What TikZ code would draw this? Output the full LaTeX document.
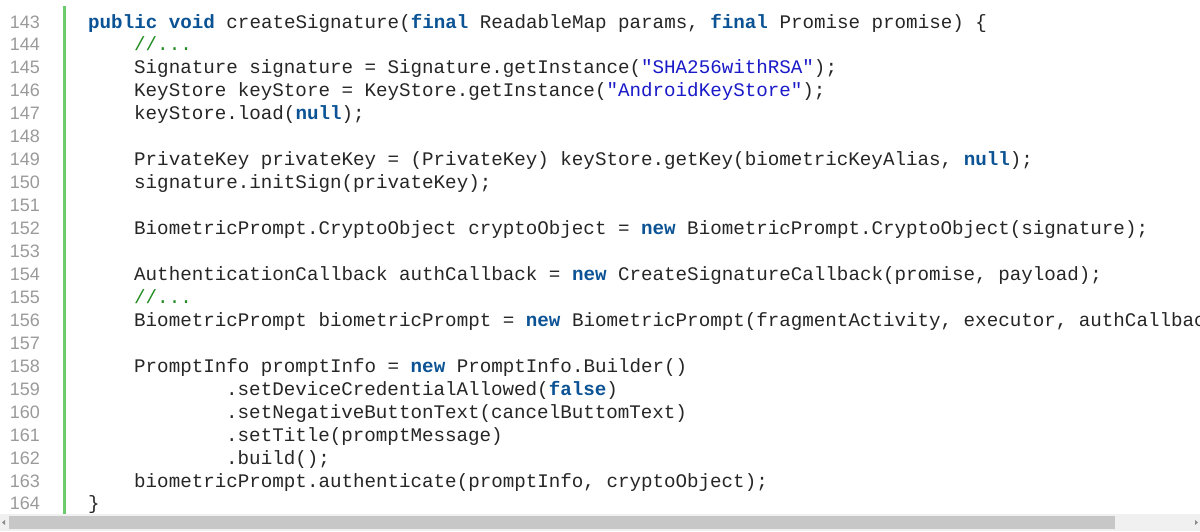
\documentclass[tikz,border=0pt]{standalone}
\usepackage{fontspec}
\setmonofont{Liberation Mono}
\setmainfont{Liberation Sans}
\definecolor{kw}{HTML}{0B5394}
\definecolor{str}{HTML}{1A1AC8}
\definecolor{cm}{HTML}{228B22}
\definecolor{ln}{HTML}{9A9A9A}
\definecolor{bar}{HTML}{6CCB6C}
\newcommand{\kw}[1]{\textcolor{kw}{\bfseries #1}}
\newcommand{\st}[1]{\textcolor{str}{#1}}
\newcommand{\cmt}[1]{\textcolor{cm}{#1}}
\newcommand{\codeline}[3]{\node[code] (c#1) at (#2,{-28-#1*22.95}) {#3};}
\begin{document}
\begin{tikzpicture}[x=1pt,y=1pt,
 code/.style={anchor=base west,inner sep=0pt,font=\ttfamily\fontsize{19.2}{23}\selectfont,text=black!85},
 num/.style={anchor=base east,inner sep=0pt,font=\fontsize{18}{23}\selectfont,text=ln}]
\useasboundingbox (0,0) rectangle (1200,-531);
\fill[white] (0,0) rectangle (1200,-531);
\begin{scope}
\clip (0,0) rectangle (1200,-531);
\draw[bar,line width=3pt] (64,-6) -- (64,-514);
\foreach \i in {0,...,21}{
 \pgfmathtruncatemacro\n{143+\i}
 \node[num] (n\i) at (40,{-28-\i*22.95}) {\n};
}
\codeline{0}{88}{\kw{public} \kw{void} createSignature(\kw{final} ReadableMap params, \kw{final} Promise promise) \{}
\codeline{1}{134}{\cmt{//...}}
\codeline{2}{134}{Signature signature = Signature.getInstance(\st{"SHA256withRSA"});}
\codeline{3}{134}{KeyStore keyStore = KeyStore.getInstance(\st{"AndroidKeyStore"});}
\codeline{4}{134}{keyStore.load(\kw{null});}
\codeline{6}{134}{PrivateKey privateKey = (PrivateKey) keyStore.getKey(biometricKeyAlias, \kw{null});}
\codeline{7}{134}{signature.initSign(privateKey);}
\codeline{9}{134}{BiometricPrompt.CryptoObject cryptoObject = \kw{new} BiometricPrompt.CryptoObject(signature);}
\codeline{11}{134}{AuthenticationCallback authCallback = \kw{new} CreateSignatureCallback(promise, payload);}
\codeline{12}{134}{\cmt{//...}}
\codeline{13}{134}{BiometricPrompt biometricPrompt = \kw{new} BiometricPrompt(fragmentActivity, executor, authCallback);}
\codeline{15}{134}{PromptInfo promptInfo = \kw{new} PromptInfo.Builder()}
\codeline{16}{226}{.setDeviceCredentialAllowed(\kw{false})}
\codeline{17}{226}{.setNegativeButtonText(cancelButtomText)}
\codeline{18}{226}{.setTitle(promptMessage)}
\codeline{19}{226}{.build();}
\codeline{20}{134}{biometricPrompt.authenticate(promptInfo, cryptoObject);}
\codeline{21}{88}{\}}
\end{scope}
\fill[black!6] (0,-514) rectangle (1200,-531);
\fill[black!22] (9,-516) rectangle (1115,-529);
\fill[black!45] (2,-522.5) -- (5,-520) -- (5,-525) -- cycle;
\fill[black!45] (1198,-522.5) -- (1195,-520) -- (1195,-525) -- cycle;
\end{tikzpicture}
\end{document}
